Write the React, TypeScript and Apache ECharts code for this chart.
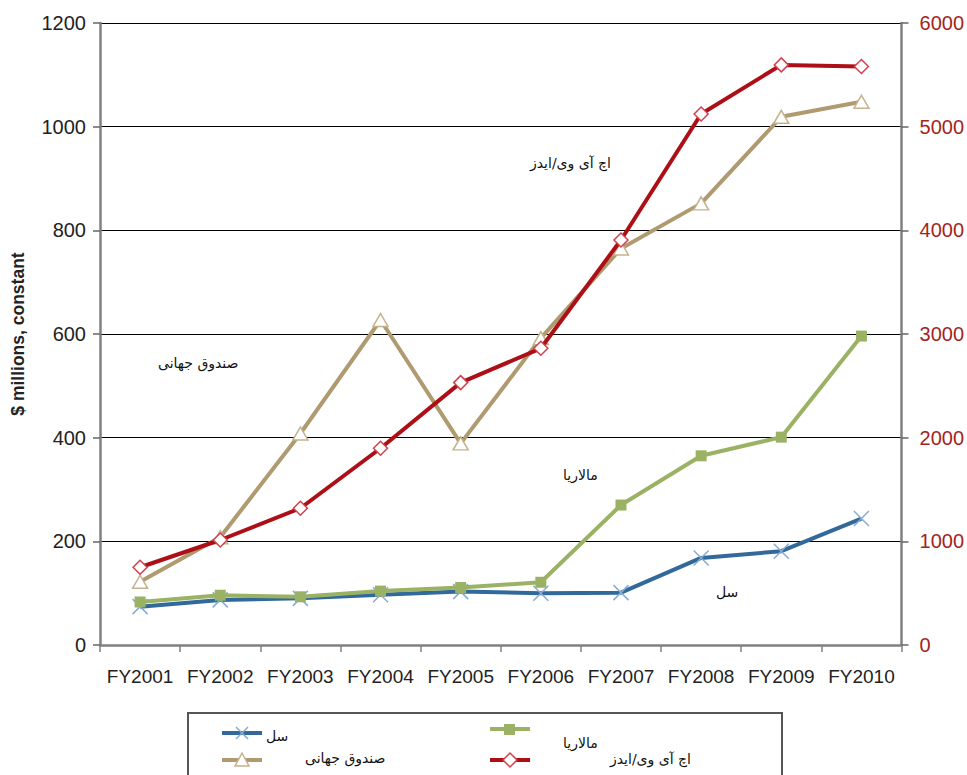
import React, { useEffect, useRef } from "react";
import * as echarts from "echarts";

const categories = ["FY2001", "FY2002", "FY2003", "FY2004", "FY2005", "FY2006", "FY2007", "FY2008", "FY2009", "FY2010"];
const tbValues = [74, 87, 90, 97, 103, 100, 101, 168, 181, 244];
const malariaValues = [83, 96, 93, 104, 111, 121, 270, 365, 401, 596];
const globalFundValues = [122, 208, 408, 627, 389, 592, 765, 852, 1019, 1048];
const hivAidsValues = [750, 1013, 1319, 1898, 2531, 2862, 3907, 5122, 5596, 5580];
const leftTicks = [0, 1200, 200];
const rightTicks = [0, 6000, 1000];

const names = {
  tb: "سل",
  malaria: "مالاریا",
  gf: "صندوق جهانی",
  hiv: "اچ آی وی/ایدز",
};

const C = {
  tbLine: "#31699a",
  tbMark: "#86acd2",
  mal: "#9bb264",
  malMark: "#9bb264",
  gf: "#b09a70",
  gfMark: "#c4b38e",
  hiv: "#ad0f16",
  hivMark: "#d2404c",
};

const X_PATH = "path://M0,0L10,10M10,0L0,10";
const persianFont = "'DejaVu Sans', 'Noto Sans', sans-serif";
const numFont = "'Liberation Sans', Arial, sans-serif";

function legendItem(x: number, y: number, color: string, mark: any) {
  return {
    type: "group",
    children: [
      { type: "line", shape: { x1: x, y1: y, x2: x + 40, y2: y }, style: { stroke: color, lineWidth: 4 } },
      mark,
    ],
  };
}

const plain = (v: number) => String(v);

export default function App() {
  const ref = useRef<HTMLDivElement>(null);
  useEffect(() => {
    if (!ref.current) return;
    const chart = echarts.init(ref.current, null, { renderer: "svg" });
    const option: any = {
      animation: false,
      backgroundColor: "#fff",
      grid: { left: 100, right: 55, top: 23, bottom: 130, containLabel: false },
      xAxis: {
        type: "category",
        data: categories,
        boundaryGap: true,
        axisLine: { lineStyle: { color: "#808080", width: 2.5 } },
        axisTick: { show: true, length: 7, lineStyle: { color: "#808080", width: 1.5 } },
        axisLabel: { color: "#222", fontFamily: numFont, fontSize: 19, margin: 22, interval: 0, hideOverlap: false },
        splitLine: { show: false },
      },
      yAxis: [
        {
          type: "value",
          min: leftTicks[0],
          max: leftTicks[1],
          interval: leftTicks[2],
          name: "$ millions, constant",
          nameLocation: "middle",
          nameGap: 73,
          nameRotate: 90,
          nameTextStyle: { fontFamily: numFont, fontSize: 17.5, fontWeight: "bold", color: "#222" },
          axisLine: { show: true, lineStyle: { color: "#808080", width: 2.5 } },
          axisTick: { show: true, length: 7, lineStyle: { color: "#666", width: 1.5 } },
          axisLabel: { color: "#222", fontFamily: numFont, fontSize: 20, margin: 14, formatter: plain },
          splitLine: { show: true, lineStyle: { color: "#000", width: 1.2 } },
        },
        {
          type: "value",
          min: rightTicks[0],
          max: rightTicks[1],
          interval: rightTicks[2],
          position: "right",
          axisLine: { show: true, lineStyle: { color: "#808080", width: 2.5 } },
          axisTick: { show: true, length: 7, lineStyle: { color: "#666", width: 1.5 } },
          axisLabel: { color: "#a3241c", fontFamily: numFont, fontSize: 20, margin: 18, formatter: plain },
          splitLine: { show: false },
        },
      ],
      series: [
        {
          name: names.tb,
          type: "line",
          data: tbValues,
          yAxisIndex: 0,
          symbol: X_PATH,
          symbolSize: 15,
          lineStyle: { color: C.tbLine, width: 4 },
          itemStyle: { color: C.tbMark, borderColor: C.tbMark, borderWidth: 1.5 },
          z: 2,
        },
        {
          name: names.malaria,
          type: "line",
          data: malariaValues,
          yAxisIndex: 0,
          symbol: "rect",
          symbolSize: 11,
          lineStyle: { color: C.mal, width: 4 },
          itemStyle: { color: C.malMark, borderColor: C.malMark, borderWidth: 0 },
          z: 3,
        },
        {
          name: names.gf,
          type: "line",
          data: globalFundValues,
          yAxisIndex: 0,
          symbol: "triangle",
          symbolSize: [15, 13],
          lineStyle: { color: C.gf, width: 4 },
          itemStyle: { color: "#fff", borderColor: C.gfMark, borderWidth: 1.5 },
          z: 4,
        },
        {
          name: names.hiv,
          type: "line",
          data: hivAidsValues,
          yAxisIndex: 1,
          symbol: "diamond",
          symbolSize: 14,
          lineStyle: { color: C.hiv, width: 4 },
          itemStyle: { color: "#fff", borderColor: C.hivMark, borderWidth: 1.5 },
          z: 5,
        },
      ],
      graphic: [
        { type: "text", left: 530, top: 156, style: { text: names.hiv, fontFamily: persianFont, fontSize: 14, fill: "#111" } },
        { type: "text", left: 158, top: 356, style: { text: names.gf, fontFamily: persianFont, fontSize: 14, fill: "#111" } },
        { type: "text", left: 563, top: 468, style: { text: names.malaria, fontFamily: persianFont, fontSize: 14, fill: "#111" } },
        { type: "text", left: 716, top: 585, style: { text: names.tb, fontFamily: persianFont, fontSize: 14, fill: "#111" } },
        {
          type: "rect",
          shape: { x: 188, y: 713, width: 594, height: 90 },
          style: { fill: "#fff", stroke: "#555", lineWidth: 2 },
        },
        legendItem(222, 733, C.tbLine, {
          type: "polyline",
          shape: { points: [[236, 727], [248, 739]] },
          style: { stroke: C.tbMark, lineWidth: 1.5 },
        }),
        {
          type: "polyline",
          shape: { points: [[248, 727], [236, 739]] },
          style: { stroke: C.tbMark, lineWidth: 1.5 },
        },
        { type: "text", x: 266, y: 729, style: { text: names.tb, fontFamily: persianFont, fontSize: 14, fill: "#111" } },
        legendItem(222, 760, C.gf, {
          type: "polygon",
          shape: { points: [[242, 753], [235, 766], [249, 766]] },
          style: { fill: "#fff", stroke: C.gfMark, lineWidth: 1.5 },
        }),
        { type: "text", x: 305, y: 751, style: { text: names.gf, fontFamily: persianFont, fontSize: 14, fill: "#111" } },
        legendItem(490, 729, C.mal, {
          type: "rect",
          shape: { x: 504, y: 724, width: 11, height: 11 },
          style: { fill: C.malMark },
        }),
        { type: "text", x: 563, y: 736, style: { text: names.malaria, fontFamily: persianFont, fontSize: 14, fill: "#111" } },
        legendItem(490, 760, C.hiv, {
          type: "polygon",
          shape: { points: [[510, 753], [517, 760], [510, 767], [503, 760]] },
          style: { fill: "#fff", stroke: C.hivMark, lineWidth: 1.5 },
        }),
        { type: "text", x: 610, y: 752, style: { text: names.hiv, fontFamily: persianFont, fontSize: 14, fill: "#111" } },
      ],
    };
    chart.setOption(option);
    return () => chart.dispose();
  }, []);
  return (
    <div
      ref={ref}
      style={{ position: "fixed", left: 0, top: 0, width: 967, height: 775, background: "#fff" }}
    />
  );
}
